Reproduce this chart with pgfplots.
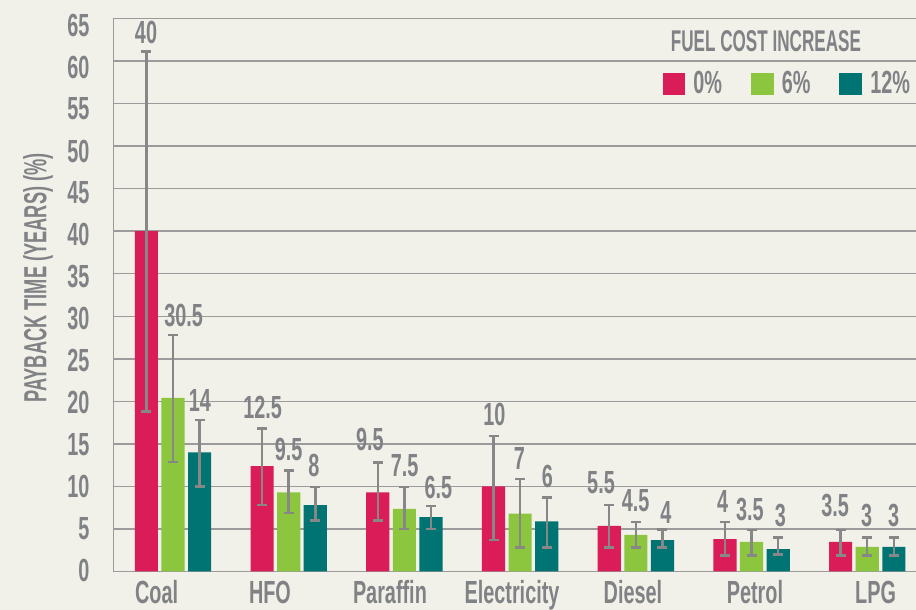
\documentclass[border=0pt]{standalone}
\usepackage{fontspec}
\setmainfont{Liberation Sans}[FakeStretch=0.62]
\newfontfamily\condB{Liberation Sans}[FakeStretch=0.57]
\usepackage{pgfplots}
\usepackage{pgfplotstable}
\pgfplotsset{compat=1.18}
\usetikzlibrary{backgrounds}
\definecolor{bg}{RGB}{242,241,233}
\definecolor{cA}{RGB}{218,28,88}
\definecolor{cB}{RGB}{140,198,63}
\definecolor{cC}{RGB}{0,115,115}
\definecolor{txt}{RGB}{128,130,133}
\definecolor{grd}{RGB}{155,155,155}
\definecolor{err}{RGB}{135,135,135}

\pgfplotstableread{
x y ep em
-0.23 40 21.1 21.2
0.77 12.4 4.4 4.6
1.77 9.3 3.5 3.3
2.77 10.0 5.9 6.3
3.77 5.35 2.45 2.55
4.77 3.8 2.05 1.94
5.77 3.47 1.43 1.61
}\tzero
\pgfplotstableread{
x y ep em
0 20.4 7.4 7.5
1 9.3 2.55 2.4
2 7.35 2.55 2.35
3 6.8 4.1 4.0
4 4.3 1.55 1.5
5 3.47 1.43 1.61
6 2.9 1.1 1.04
}\tsix
\pgfplotstableread{
x y ep em
0.23 14 3.8 4.0
1.23 7.8 2.1 1.8
2.23 6.4 1.3 1.4
3.23 5.9 2.8 3.1
4.23 3.7 1.26 0.9
5.23 2.64 1.36 0.64
6.23 2.9 1.1 1.04
}\ttwelve
\pgfplotstableread{
x y lab
-0.233 62.06 40
0.092 28.77 30.5
0.233 18.78 14
0.775 18.0 12.5
1.0 13.1 9.5
1.218 11.14 8
1.702 14.28 9.5
2.002 11.14 7.5
2.293 8.6 6.5
2.778 17.21 10
2.994 12.0 7
3.236 9.89 6
3.699 9.19 5.5
3.998 7.03 4.5
4.259 5.66 4
4.751 6.96 4
4.986 6.05 3.5
5.25 5.26 3
5.723 6.52 3.5
5.995 5.26 3
6.228 5.26 3
}\labs

\begin{document}
\begin{tikzpicture}
\begin{axis}[
  scale only axis,
  width=401.25pt, height=276.5pt,
  xmin=-0.514, xmax=6.421,
  ymin=0, ymax=65,
  ytick={0,5,...,65},
  yticklabels={},
  extra y ticks={0.12,5.05,9.98,14.91,19.84,24.77,29.70,34.63,39.56,44.49,49.42,54.35,59.28,64.21},
  extra y tick labels={0,5,10,15,20,25,30,35,40,45,50,55,60,65},
  extra y tick style={grid=none, yticklabel style={font=\fontsize{16}{16}\selectfont\bfseries, text=txt, anchor=east, inner sep=0pt, xshift=-5.9pt}},
  xtick={-0.141,0.838,1.875,2.930,3.975,5.029,6.072},
  xticklabels={Coal,HFO,Paraffin,Electricity,Diesel,Petrol,LPG},
  major tick length=0pt,
  axis lines=left,
  axis line style={-, draw=grd, line width=0.75pt},
  ymajorgrids,
  grid style={draw=grd, line width=0.75pt},
  clip=false,
  /pgf/number format/assume math mode=true,
  yticklabel style={font=\fontsize{16}{16}\selectfont\bfseries, text=txt, anchor=east, inner sep=0pt, xshift=-5.9pt},
  xticklabel style={font=\fontsize{16}{16}\selectfont\bfseries, text=txt, anchor=base, inner sep=0pt, yshift=-16.25pt},
  ylabel={PAYBACK TIME (YEARS) (\%)},
  every axis y label/.style={at={(axis description cs:-0.0941,0.531)}, rotate=90, anchor=center, font=\condB\fontsize{16}{16}\selectfont\bfseries, text=txt},
  legend style={at={(rel axis cs:0.9925,0.8816)}, anchor=east, draw=none, fill=none, inner sep=0pt, outer sep=0pt,
    font=\fontsize{16}{16}\selectfont\bfseries, text=txt,
    nodes={inner sep=0pt},
    /tikz/every odd column/.append style={column sep=4pt},
    /tikz/every even column/.append style={column sep=14.5pt}},
  legend columns=3,
  legend image code/.code={\fill[#1] (0pt,-5.7pt) rectangle (11.4pt,5.7pt);},
]
\addplot[ybar, bar width=0.2, bar shift=0pt, fill=cA, draw=none,
  error bars/.cd, y dir=both, y explicit,
  error bar style={draw=err, line width=1.2pt},
  error mark options={draw=err, line width=1.2pt, mark size=2.5pt, rotate=90}]
  table[x=x, y=y, y error plus=ep, y error minus=em] {\tzero};
\addplot[ybar, bar width=0.2, bar shift=0pt, fill=cB, draw=none,
  error bars/.cd, y dir=both, y explicit,
  error bar style={draw=err, line width=1.2pt},
  error mark options={draw=err, line width=1.2pt, mark size=2.5pt, rotate=90}]
  table[x=x, y=y, y error plus=ep, y error minus=em] {\tsix};
\addplot[ybar, bar width=0.2, bar shift=0pt, fill=cC, draw=none,
  error bars/.cd, y dir=both, y explicit,
  error bar style={draw=err, line width=1.2pt},
  error mark options={draw=err, line width=1.2pt, mark size=2.5pt, rotate=90}]
  table[x=x, y=y, y error plus=ep, y error minus=em] {\ttwelve};
\legend{0\%,6\%,12\%}
\addplot[draw=none, mark=none, forget plot, nodes near coords, point meta=explicit symbolic,
  nodes near coords style={anchor=base, inner sep=0pt, text=txt, font=\fontsize{16}{16}\selectfont\bfseries}]
  table[x=x, y=y, meta=lab] {\labs};
\node[anchor=base, inner sep=0pt, text=txt, font=\condB\fontsize{15}{15}\selectfont\bfseries] at (rel axis cs:0.813,0.94) {FUEL COST INCREASE};
\end{axis}
\coordinate (BL) at ([xshift=-56.75pt,yshift=-19.25pt]current axis.south west);
\coordinate (TR) at ([yshift=9.25pt]current axis.north east);
\begin{pgfonlayer}{background}
\fill[bg] (BL) rectangle (TR);
\end{pgfonlayer}
\pgfresetboundingbox
\useasboundingbox (BL) rectangle (TR);
\end{tikzpicture}
\end{document}
